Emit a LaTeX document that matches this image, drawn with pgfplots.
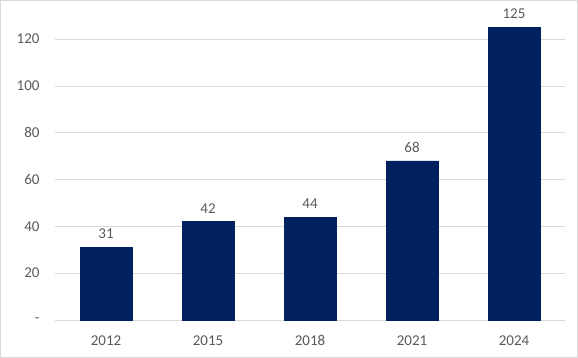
\documentclass[border=0pt]{standalone}
\usepackage{pgfplots}
\pgfplotsset{compat=1.18}
\usepackage{fontspec}
\setmainfont{Carlito}
\definecolor{barblue}{RGB}{0,32,96}
\definecolor{txtgray}{RGB}{89,89,89}
\definecolor{gridgray}{RGB}{217,217,217}
\begin{document}
\begin{tikzpicture}[x=1pt,y=1pt]
\draw[gridgray, line width=1.2pt] (0.6,0.6) rectangle (577.4,357.4);
\useasboundingbox (0,0) rectangle (578,358);
\begin{axis}[
  at={(55pt,38pt)}, anchor=south west,
  scale only axis, width=510pt, height=316pt,
  xmin=-0.5, xmax=4.5, ymin=0, ymax=135,
  axis line style={draw=none},
  xtick={0,1,2,3,4},
  xticklabels={2012,2015,2018,2021,2024},
  ytick={0,20,40,60,80,100,120},
  yticklabels={-,20,40,60,80,100,120},
  major tick length=0pt,
  ymajorgrids, grid style={gridgray, line width=0.8pt},
  tick label style={font=\fontsize{15}{18}\selectfont, text=txtgray},
  yticklabel style={xshift=-12pt},
  xticklabel style={yshift=-12pt},
  /pgf/number format/assume math mode=true,
  nodes near coords,
  every node near coord/.append style={font=\fontsize{15}{18}\selectfont, text=txtgray, yshift=5pt},
  clip=false,
]
\addplot[ybar, bar width=52pt, fill=barblue, draw=barblue] coordinates {(0,31) (1,42) (2,44) (3,68) (4,125)};
\end{axis}
\end{tikzpicture}
\end{document}
